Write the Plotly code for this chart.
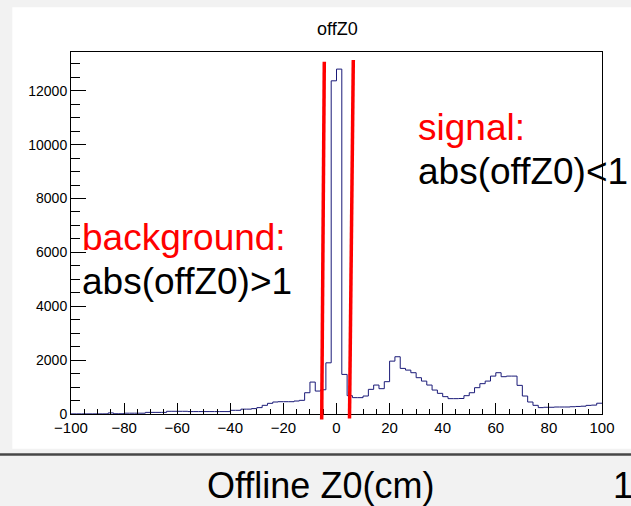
import plotly.graph_objects as go

# ---------------- data ----------------
x_min = -100
x_max = 100
bin_width = 2
counts = [
    5, 5, 5, 5, 5, 5, 5, 40, 10, 10,             # -100 .. -80
    30, 30, 30, 30, 60, 60, 60, 60, 100, 100,    # -80 .. -60
    100, 100, 90, 90, 90, 90, 90, 90, 90, 90,    # -60 .. -40
    137, 137, 180, 180, 200, 237, 322, 396, 445, 457,  # -40 .. -20
    457, 457, 482, 507, 790, 1185, 852, 900, 1900, 12370,  # -20 .. 0
    12805, 1470, 680, 607, 607, 667, 915, 1075, 940, 1200,  # 0 .. 20
    1963, 2126, 1693, 1630, 1533, 1348, 1222, 1075, 889, 767,  # 20 .. 40
    644, 570, 570, 575, 680, 790, 977, 1126, 1222, 1407,  # 40 .. 60
    1533, 1385, 1407, 1407, 1063, 667, 445, 322, 237, 250,  # 60 .. 80
    250, 260, 260, 260, 270, 280, 290, 320, 330, 400,  # 80 .. 100
]
y_max = 13440
x_ticks = [-100, -80, -60, -40, -20, 0, 20, 40, 60, 80, 100]
y_ticks = [0, 2000, 4000, 6000, 8000, 10000, 12000]

title_text = "offZ0"
xlabel_text = "Offline Z0(cm)"
sig_label = "signal:"
sig_expr = "abs(offZ0)&lt;1"
bkg_label = "background:"
bkg_expr = "abs(offZ0)&gt;1"

# ---------------- geometry helpers (pixel -> paper) ----------------
W, H = 631, 506
L, R, T, B = 71, 29, 52, 91.5
PW = W - L - R
PH = H - T - B


def xp(px):
    return (px - L) / PW


def yp(py):
    return (H - B - py) / PH


edges = [x_min + i * bin_width for i in range(len(counts) + 1)]
ys = counts + [counts[-1]]

FONT = "Liberation Sans, Arial, Helvetica, sans-serif"

fig = go.Figure()
fig.add_trace(go.Scatter(
    x=edges, y=ys, mode="lines", line_shape="hv",
    line=dict(color="#1a1a78", width=1), hoverinfo="skip", showlegend=False,
))

shapes = [
    # white canvas
    dict(type="rect", xref="paper", yref="paper", layer="below",
         x0=xp(12.3), x1=xp(640), y0=yp(449.3), y1=yp(7.3),
         fillcolor="white", line=dict(width=0)),
    # dark separator line
    dict(type="line", xref="paper", yref="paper",
         x0=xp(0), x1=xp(640), y0=yp(455), y1=yp(455),
         line=dict(color="#474747", width=2.5)),
    # red cut lines
    dict(type="line", xref="paper", yref="paper",
         x0=xp(321.7), x1=xp(324.3), y0=yp(420), y1=yp(61.7),
         line=dict(color="#ff0000", width=3.5)),
    dict(type="line", xref="paper", yref="paper",
         x0=xp(349.5), x1=xp(353.3), y0=yp(419), y1=yp(60),
         line=dict(color="#ff0000", width=3.5)),
]

big = 37
annotations = [
    dict(text=title_text, xref="paper", yref="paper", x=xp(337), y=yp(29),
         xanchor="center", yanchor="middle", showarrow=False,
         font=dict(family=FONT, size=18, color="black")),
    dict(text=sig_label, xref="paper", yref="paper", x=xp(416), y=yp(127.5),
         xanchor="left", yanchor="middle", showarrow=False,
         font=dict(family=FONT, size=big, color="#ff0000")),
    dict(text=sig_expr, xref="paper", yref="paper", x=xp(416), y=yp(171.5),
         xanchor="left", yanchor="middle", showarrow=False,
         font=dict(family=FONT, size=big, color="black")),
    dict(text=bkg_label, xref="paper", yref="paper", x=xp(80), y=yp(237.5),
         xanchor="left", yanchor="middle", showarrow=False,
         font=dict(family=FONT, size=big, color="#ff0000")),
    dict(text=bkg_expr, xref="paper", yref="paper", x=xp(80), y=yp(281.5),
         xanchor="left", yanchor="middle", showarrow=False,
         font=dict(family=FONT, size=big, color="black")),
    dict(text=xlabel_text, xref="paper", yref="paper", x=xp(320), y=yp(486),
         xanchor="center", yanchor="middle", showarrow=False,
         font=dict(family=FONT, size=36, color="black")),
    dict(text="1", xref="paper", yref="paper", x=xp(611), y=yp(486),
         xanchor="left", yanchor="middle", showarrow=False,
         font=dict(family=FONT, size=36, color="black")),
]

fig.update_layout(
    width=W, height=H,
    margin=dict(l=L, r=R, t=T, b=B, pad=0),
    paper_bgcolor="#f2f2f2",
    plot_bgcolor="white",
    font=dict(family=FONT, color="black"),
    shapes=shapes,
    annotations=annotations,
    showlegend=False,
)
fig.update_xaxes(
    range=[x_min, x_max], tickvals=x_ticks, ticks="inside", ticklen=11,
    tickcolor="black", tickwidth=1, showline=True, linecolor="black",
    linewidth=1, mirror=True, showgrid=False, zeroline=False,
    tickfont=dict(family=FONT, size=15, color="black"),
    minor=dict(ticks="inside", ticklen=5, dtick=5, tickcolor="black",
               tickwidth=1, showgrid=False),
)
fig.update_yaxes(
    range=[0, y_max], tickvals=y_ticks, tickformat="d", ticks="inside",
    ticklen=15, tickcolor="black", tickwidth=1, showline=True,
    linecolor="black", linewidth=1, mirror=True, showgrid=False,
    zeroline=False, tickfont=dict(family=FONT, size=14, color="black"),
    minor=dict(ticks="inside", ticklen=9, dtick=500, tickcolor="black",
               tickwidth=1, showgrid=False),
)

fig.write_html("out.html")
